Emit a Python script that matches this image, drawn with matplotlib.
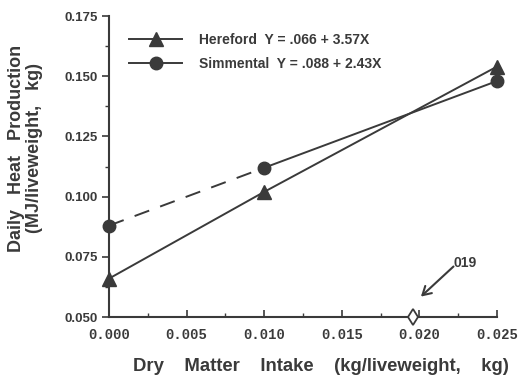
import matplotlib.pyplot as plt
from matplotlib.ticker import MultipleLocator, FormatStrFormatter

# data
intake = [0.000, 0.010, 0.025]
hereford = [0.066, 0.102, 0.154]
simmental = [0.088, 0.112, 0.148]
threshold_x = 0.0196
threshold_label = '019'

ink = '#3a3a3a'
plt.rcParams['font.family'] = ['Liberation Sans', 'DejaVu Sans']
plt.rcParams['font.weight'] = 'bold'

fig = plt.figure(figsize=(5.22, 3.82), dpi=100, facecolor='white')
ax = fig.add_axes([0.209, 0.170, 0.743, 0.788])

# Hereford: solid all the way
ax.plot(intake, hereford, color=ink, lw=1.4, marker='^', ms=10, mfc=ink, mec=ink,
        label='Hereford  Y = .066 + 3.57X', clip_on=False, zorder=3)
# Simmental: dashed for the first segment, solid after
ax.plot(intake[:2], simmental[:2], color=ink, lw=1.4, ls=(0, (8, 6)), clip_on=False, zorder=3)
ax.plot(intake[1:], simmental[1:], color=ink, lw=1.4, clip_on=False, zorder=3)
ax.plot(intake, simmental, ls='none', marker='o', ms=9, mfc=ink, mec=ink,
        clip_on=False, zorder=4)
ax.plot([], [], color=ink, lw=1.4, marker='o', ms=9, mfc=ink, mec=ink,
        label='Simmental  Y = .088 + 2.43X')

# threshold marker on the x axis
ax.plot([threshold_x], [0.050], marker='d', ms=8, mfc='white', mec=ink, mew=1.3,
        clip_on=False, zorder=5)
ax.annotate('', xy=(0.0201, 0.0585), xytext=(0.0222, 0.0710),
            arrowprops=dict(arrowstyle='->,head_length=0.6,head_width=0.35',
                            color=ink, lw=1.5, shrinkA=0, shrinkB=0))
ax.text(0.0222, 0.0725, threshold_label, fontsize=10, color=ink, fontweight='bold',
        ha='left', va='center')

ax.set_xlim(0, 0.025)
ax.set_ylim(0.050, 0.175)
ax.xaxis.set_major_locator(MultipleLocator(0.005))
ax.xaxis.set_minor_locator(MultipleLocator(0.0025))
ax.yaxis.set_major_locator(MultipleLocator(0.025))
ax.yaxis.set_minor_locator(MultipleLocator(0.0125))
ax.xaxis.set_major_formatter(FormatStrFormatter('%.3f'))
ax.yaxis.set_major_formatter(FormatStrFormatter('%.3f'))

for s in ['top', 'right']:
    ax.spines[s].set_visible(False)
for s in ['left', 'bottom']:
    ax.spines[s].set_color(ink)
    ax.spines[s].set_linewidth(1.5)

ax.tick_params(axis='x', which='major', direction='in', length=5, width=1.2, colors=ink, pad=8)
ax.tick_params(axis='x', which='minor', direction='in', length=3, width=1.0, colors=ink)
ax.tick_params(axis='y', which='major', direction='out', length=5, width=1.2, colors=ink, pad=3)
ax.tick_params(axis='y', which='minor', direction='out', length=3, width=1.0, colors=ink)
for lab in ax.get_xticklabels():
    lab.set_family(['Liberation Mono', 'DejaVu Sans Mono'])
    lab.set_fontsize(10)
    lab.set_fontweight('bold')
for lab in ax.get_yticklabels():
    lab.set_fontsize(9.5)
    lab.set_fontweight('bold')

ax.set_xlabel('Dry    Matter    Intake    (kg/liveweight,    kg)', fontsize=13.3,
              fontweight='bold', color=ink)
ax.xaxis.set_label_coords(0.546, -0.135)
ax.set_ylabel('Daily   Heat   Production\n(MJ/liveweight,   kg)', fontsize=13,
              fontweight='bold', color=ink, linespacing=1.1)
ax.yaxis.set_label_coords(-0.17, 0.56)

leg = ax.legend(loc='upper left', bbox_to_anchor=(0.02, 0.985), frameon=False,
                handlelength=3.8, fontsize=10, labelspacing=0.7, handletextpad=1.2)
for t in leg.get_texts():
    t.set_color(ink)
    t.set_fontweight('bold')

fig.savefig('out.png', dpi=100, facecolor='white')
